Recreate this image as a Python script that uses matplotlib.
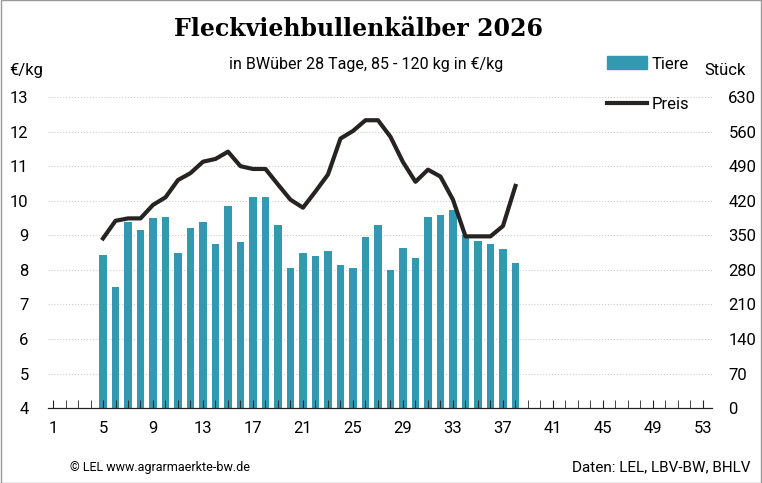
import matplotlib.pyplot as plt
from matplotlib.patches import Rectangle
from matplotlib.lines import Line2D

weeks = list(range(5, 39))
tiere = [311, 245, 378, 360, 385, 388, 315, 364, 378, 332, 409, 336, 427, 427,
         371, 283, 315, 308, 318, 290, 283, 346, 371, 280, 325, 304, 388, 392,
         402, 350, 339, 332, 322, 294]
preis = [8.91, 9.42, 9.49, 9.49, 9.88, 10.1, 10.6, 10.8, 11.13, 11.21, 11.42, 11.0,
         10.92, 10.92, 10.47, 10.03, 9.8, 10.27, 10.76, 11.8, 12.02, 12.33, 12.33, 11.85,
         11.12, 10.55, 10.9, 10.7, 10.03, 8.97, 8.97, 8.97, 9.27, 10.43]
xlabels = list(range(1, 54, 4))

plt.rcParams['font.family'] = ['Roboto', 'DejaVu Sans']
bar_col = '#3399b0'

fig = plt.figure(figsize=(7.62, 4.83), dpi=100)
ax = fig.add_axes([0.063, 0.155, 0.871, 0.644])
ax2 = ax.twinx()
ax.set_zorder(ax2.get_zorder() + 1)
ax.patch.set_visible(False)

ax2.bar(weeks, tiere, width=0.62, color=bar_col, zorder=2)
ax2.set_ylim(0, 630)
ax2.set_yticks(range(0, 631, 70))
ax.plot(weeks, preis, color='#262322', lw=3, zorder=3)
ax.set_ylim(4, 13)
ax.set_yticks(range(4, 14))
ax.set_xlim(0.6, 53.7)
ax.set_xticks(xlabels)
ax.set_xticks(range(1, 54), minor=True)
ax.tick_params(axis='x', which='both', direction='in', length=6, color='#222222',
               labelsize=12, pad=9)
ax.tick_params(axis='y', length=0, labelsize=12, pad=14)
ax2.tick_params(axis='y', length=0, labelsize=12, pad=12)
ax2.grid(axis='y', color='#cccccc', ls=':', lw=0.8)
for a in (ax, ax2):
    for s in ('top', 'left', 'right'):
        a.spines[s].set_visible(False)
    a.spines['bottom'].set_color('#222222')

fig.text(0.47, 0.925, 'Fleckviehbullenkälber 2026', ha='center', fontsize=17,
         fontweight='bold', family='DejaVu Serif')
fig.text(0.48, 0.858, 'in BWüber 28 Tage, 85 - 120 kg in €/kg', ha='center', fontsize=11.5)
fig.text(0.012, 0.845, '€/kg', fontsize=12)
fig.text(0.925, 0.845, 'Stück', fontsize=12)
fig.patches.append(Rectangle((0.797, 0.857), 0.052, 0.027, color=bar_col,
                             transform=fig.transFigure))
fig.text(0.855, 0.858, 'Tiere', fontsize=12)
fig.lines.append(Line2D([0.797, 0.849], [0.787, 0.787], color='#262322', lw=3,
                        transform=fig.transFigure))
fig.text(0.855, 0.775, 'Preis', fontsize=12)
fig.text(0.092, 0.025, '© LEL www.agrarmaerkte-bw.de', fontsize=9)
fig.text(0.985, 0.025, 'Daten: LEL, LBV-BW, BHLV', ha='right', fontsize=11)
fig.patches.append(Rectangle((0.001, 0.001), 0.998, 0.998, fill=False,
                             ec='#999999', lw=1, transform=fig.transFigure))

fig.savefig('out.png', dpi=100)
